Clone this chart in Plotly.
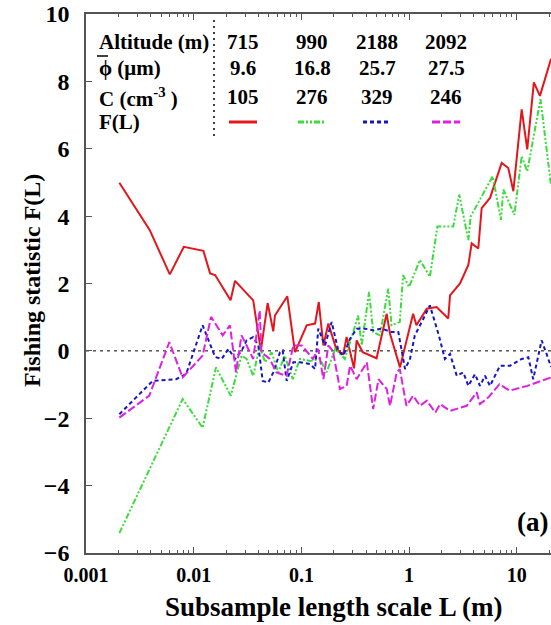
import plotly.graph_objects as go

# ---------------- data ----------------
red_x = [0.00204, 0.0039, 0.006, 0.0081, 0.0123, 0.0142, 0.0158, 0.022, 0.0242, 0.0357,
         0.042, 0.0486, 0.0548, 0.0568, 0.074, 0.0872, 0.112, 0.134, 0.145, 0.16,
         0.178, 0.213, 0.245, 0.263, 0.308, 0.326, 0.371, 0.499, 0.619, 0.665,
         0.823, 1.09, 1.17, 1.46, 1.8, 2.31, 2.40, 2.97, 3.55, 3.81,
         4.39, 4.72, 5.64, 7.24, 8.34, 9.29, 11.1, 12.5, 14.4, 16.4, 20.8]
red_y = [4.99, 3.59, 2.27, 3.09, 2.97, 2.30, 2.25, 1.50, 2.08, 1.50,
         0.01, 1.42, 0.58, 1.05, 1.62, -0.04, 0.76, 0.81, 1.45, 0.16,
         0.81, 0.01, -0.09, 0.41, -0.52, 0.31, -0.04, -0.22, 1.10, 0.51,
         -0.49, 1.10, 0.76, 1.25, 1.30, 0.96, 1.65, 2.0, 2.55, 3.19,
         3.04, 4.24, 4.54, 5.58, 5.43, 4.74, 7.17, 5.98, 7.97, 7.57, 8.67]

green_x = [0.00204, 0.0079, 0.0121, 0.0161, 0.0221, 0.0278, 0.0310, 0.0357, 0.041, 0.046,
           0.0528, 0.061, 0.070, 0.0831, 0.0968, 0.12, 0.149, 0.171, 0.206, 0.253,
           0.303, 0.336, 0.363, 0.425, 0.464, 0.536, 0.64, 0.687, 0.82, 0.88,
           1.0, 1.26, 1.56, 1.83, 2.57, 2.92, 3.55, 3.73, 5.97, 7.13,
           7.5, 9.5, 11.1, 12.5, 16.6, 20.8]
green_y = [-5.41, -1.43, -2.28, -0.49, -1.33, -0.14, -0.24, -0.74, 0.16, -0.34,
           -0.04, -0.64, -0.14, -0.84, -0.24, -0.30, -0.24, -0.64, 0.06, -0.24,
           0.56, 1.05, 0.16, 1.75, 0.56, 0.46, 1.85, 0.76, 0.86, 2.25,
           1.90, 2.70, 2.20, 3.69, 3.69, 4.64, 3.29, 3.99, 5.18, 3.89,
           4.79, 4.04, 5.78, 5.33, 7.47, 4.9]

blue_x = [0.00204, 0.00416, 0.00686, 0.0085, 0.0121, 0.0158, 0.0182, 0.0210, 0.0242, 0.0279,
          0.0310, 0.0357, 0.0398, 0.0437, 0.0493, 0.0548, 0.0633, 0.067, 0.073, 0.0841,
          0.097, 0.120, 0.134, 0.1435, 0.1656, 0.191, 0.220, 0.245, 0.283, 0.326,
          0.389, 0.465, 0.557, 0.689, 0.794, 0.917, 1.02, 1.13, 1.36, 1.56,
          1.87, 2.15, 2.40, 2.77, 3.19, 3.55, 4.09, 4.55, 5.07, 5.64,
          6.98, 8.65, 11.1, 12.8, 14.2, 17.0, 18.9, 20.8]
blue_y = [-1.88, -0.89, -0.84, -0.69, 0.76, -0.18, -0.24, 0.06, -0.24, 0.01,
          0.31, 0.41, 0.16, -0.89, -0.94, -0.64, -0.04, 0.01, -0.89, -0.34,
          -0.34, -0.39, -0.54, 0.66, 0.16, 0.86, 0.01, -0.14, 0.36, 0.66,
          0.66, 0.61, 0.66, 0.56, 0.56, -0.54, -0.24, 0.46, 0.96, 1.35,
          0.51, -0.24, -0.09, -0.74, -0.64, -1.04, -0.69, -1.04, -0.74, -1.04,
          -0.44, -0.44, -0.24, -0.19, -0.84, 0.31, -0.09, -0.48]

magenta_x = [0.00204, 0.00387, 0.00594, 0.00789, 0.0121, 0.0145, 0.0186, 0.0217, 0.0247, 0.0278,
             0.0310, 0.0357, 0.041, 0.0425, 0.0508, 0.0587, 0.0728, 0.0842, 0.101, 0.128,
             0.1433, 0.16, 0.178, 0.196, 0.228, 0.263, 0.283, 0.326, 0.405, 0.464,
             0.52, 0.619, 0.665, 0.768, 0.82, 0.945, 1.09, 1.26, 1.46, 1.75,
             1.94, 2.40, 3.43, 4.24, 4.55, 5.45, 6.9, 8.6, 12.5, 20.8]
magenta_y = [-1.98, -1.33, 0.26, -0.79, -0.14, 1.01, 0.46, 0.76, -0.63, 0.46,
             0.16, -0.24, 1.20, -0.04, -0.24, -0.64, -0.74, 0.16, 0.16, -0.24,
             0.06, -0.84, 0.16, 0.0, -1.13, -1.04, -0.44, -0.84, -0.34, -1.73,
             -0.84, -1.13, -1.63, -0.64, -0.54, -1.63, -1.33, -1.63, -1.48, -1.83,
             -1.58, -1.78, -1.63, -1.23, -1.58, -1.38, -0.99, -1.18, -1.04, -0.79]

row_labels = ["Altitude (m)", "\u03d5 (\u03bcm)", "C (cm<sup>-3</sup> )", "F(L)"]
altitudes = ["715", "990", "2188", "2092"]
phi_vals = ["9.6", "16.8", "25.7", "27.5"]
conc_vals = ["105", "276", "329", "246"]

x_tick_vals = [0.001, 0.01, 0.1, 1, 10]
x_tick_text = ["0.001", "0.01", "0.1", "1", "10"]
y_tick_vals = [-6, -4, -2, 0, 2, 4, 6, 8, 10]

# ---------------- styles ----------------
W, H = 551, 625
ML, MR, MT, MB = 86, 0, 14, 72
PW, PH = W - ML - MR, H - MT - MB
FONT = "Liberation Serif"


def px(xp):
    return (xp - ML) / PW


def py(yp):
    return (H - MB - yp) / PH


series = [
    (red_x, red_y, "#e3161c", "solid"),
    (green_x, green_y, "#3cdc3c", "6px,2px,2px,2px,2px,2px"),
    (blue_x, blue_y, "#1616c8", "4px,3px"),
    (magenta_x, magenta_y, "#e020e0", "8px,3px"),
]

fig = go.Figure()
for xs, ys, col, dash in series:
    fig.add_trace(go.Scatter(x=xs, y=ys, mode="lines",
                             line=dict(color=col, width=2, dash=dash),
                             showlegend=False))

axis_col = "#555555"
fig.update_layout(
    width=W, height=H,
    margin=dict(l=ML, r=MR, t=MT, b=MB, pad=0),
    paper_bgcolor="white", plot_bgcolor="white",
    font=dict(family=FONT, color="black"),
    xaxis=dict(type="log", range=[-3, -3 + PW / 107.7],
               tickvals=x_tick_vals, ticktext=x_tick_text,
               ticks="inside", ticklen=6, tickwidth=1.2, tickcolor=axis_col,
               minor=dict(ticks="inside", ticklen=3, tickwidth=1, tickcolor=axis_col,
                          dtick="D1", showgrid=False),
               showline=True, linecolor=axis_col, linewidth=1.5, mirror="ticks",
               showgrid=False, zeroline=False,
               tickfont=dict(size=20, family=FONT, weight="bold"),
               ticklabelstandoff=3),
    yaxis=dict(range=[-6, 10], tickvals=y_tick_vals,
               ticks="inside", ticklen=6, tickwidth=1.2, tickcolor=axis_col,
               showline=True, linecolor=axis_col, linewidth=1.5, mirror=False,
               showgrid=False, zeroline=False,
               tickfont=dict(size=24, family=FONT, weight="bold"),
               ticklabelstandoff=10),
)

# zero reference line
fig.add_shape(type="line", xref="paper", yref="y", x0=0, x1=1, y0=0, y1=0,
              line=dict(color="black", width=1, dash="3px,4px"), layer="below")

# axis titles
fig.add_annotation(text="Fishing statistic F(L)", xref="paper", yref="paper",
                   x=px(32), y=py(281), xanchor="center", yanchor="middle",
                   showarrow=False, textangle=-90,
                   font=dict(size=24, family=FONT, weight="bold"))
fig.add_annotation(text="Subsample length scale L (m)", xref="paper", yref="paper",
                   x=px(334), y=py(607), xanchor="center", yanchor="middle",
                   showarrow=False,
                   font=dict(size=27, family=FONT, weight="bold"))
fig.add_annotation(text="(a)", xref="paper", yref="paper", x=px(550), y=py(522),
                   xanchor="right", yanchor="middle", showarrow=False,
                   font=dict(size=27, family=FONT, weight="bold"))

# table-like legend
row_y = [42, 68, 97, 122]
col_x = [243, 312, 377, 446]
for lab, yy in zip(row_labels, row_y):
    fig.add_annotation(text=lab, xref="paper", yref="paper", x=px(97), y=py(yy),
                       xanchor="left", yanchor="middle", showarrow=False,
                       font=dict(size=21, family=FONT, weight="bold"))
for vals, yy in zip([altitudes, phi_vals, conc_vals], row_y[:3]):
    for v, xx in zip(vals, col_x):
        fig.add_annotation(text=v, xref="paper", yref="paper", x=px(xx), y=py(yy),
                           xanchor="center", yanchor="middle", showarrow=False,
                           font=dict(size=21, family=FONT, weight="bold"))
for (xs, ys, col, dash), xx in zip(series, col_x):
    fig.add_shape(type="line", xref="paper", yref="paper",
                  x0=px(xx - 14), x1=px(xx + 14), y0=py(row_y[3]), y1=py(row_y[3]),
                  line=dict(color=col, width=3, dash=dash))
# overline of the phi symbol
fig.add_shape(type="line", xref="paper", yref="paper",
              x0=px(97), x1=px(108), y0=py(56), y1=py(56),
              line=dict(color="black", width=1.5))
# dotted separator of the table
fig.add_shape(type="line", xref="paper", yref="paper",
              x0=px(214), x1=px(214), y0=py(20), y1=py(137),
              line=dict(color="black", width=1.5, dash="2px,4px"))

fig.write_html("out.html")
